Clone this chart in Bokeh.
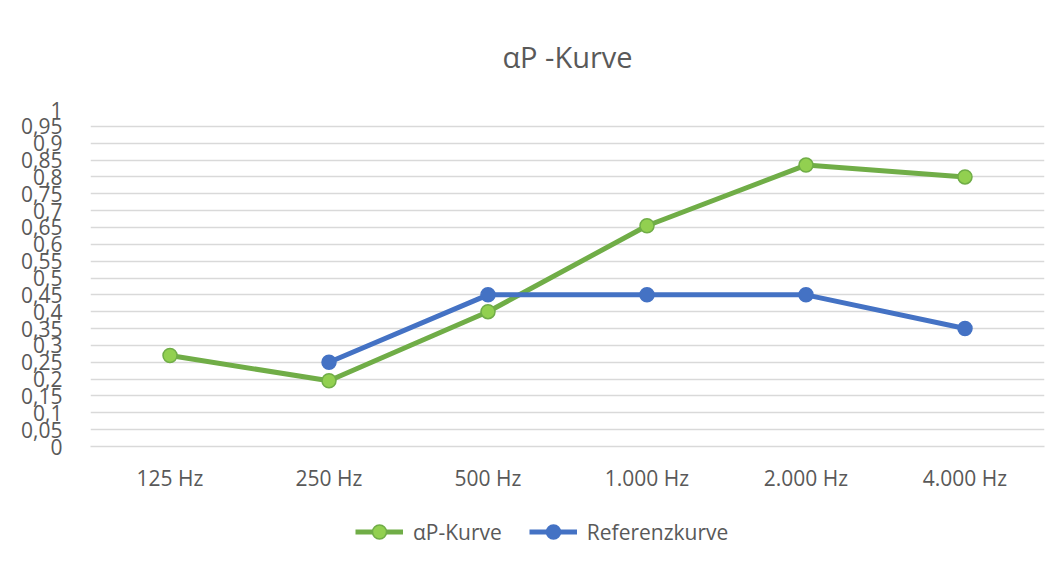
from bokeh.plotting import figure
from bokeh.models import FixedTicker, Legend, LegendItem, ColumnDataSource
from bokeh.layouts import column
from bokeh.embed import file_html
from bokeh.resources import INLINE

categories = ["125 Hz", "250 Hz", "500 Hz", "1.000 Hz", "2.000 Hz", "4.000 Hz"]
ap_kurve = [0.27, 0.195, 0.40, 0.655, 0.835, 0.80]
referenz = [float("nan"), 0.25, 0.45, 0.45, 0.45, 0.35]
y_ticks = [round(i * 0.05, 2) for i in range(21)]
y_tick_labels = ["0", "0,05", "0,1", "0,15", "0,2", "0,25", "0,3", "0,35", "0,4", "0,45",
                 "0,5", "0,55", "0,6", "0,65", "0,7", "0,75", "0,8", "0,85", "0,9", "0,95", "1"]
series_names = ["αP-Kurve", "Referenzkurve"]

FONT = "Open Sans"
TXT = "#595959"
GREEN_LINE, GREEN_FILL = "#70AD47", "#92D050"
BLUE = "#4472C4"

p = figure(x_range=categories, y_range=(0, 1), width=1055, height=501,
           output_backend="svg", toolbar_location=None, title="αP -Kurve",
           min_border_left=90, min_border_right=11, min_border_top=109, min_border_bottom=55)
p.outline_line_color = None
p.background_fill_color = "white"
p.border_fill_color = "white"

p.title.align = "center"
p.title.text_font = FONT
p.title.text_font_size = "29px"
p.title.text_font_style = "normal"
p.title.text_color = TXT
p.title.offset = 0
p.title.standoff = 67

p.yaxis.ticker = FixedTicker(ticks=y_ticks)
p.yaxis.major_label_overrides = {t: l for t, l in zip(y_ticks, y_tick_labels)}
p.yaxis.axis_line_color = None
p.yaxis.major_tick_line_color = None
p.yaxis.minor_tick_line_color = None
p.yaxis.major_label_standoff = 22
p.yaxis.major_label_text_font = FONT
p.yaxis.major_label_text_font_size = "21px"
p.yaxis.major_label_text_color = TXT

p.xaxis.axis_line_color = "#D9D9D9"
p.xaxis.axis_line_width = 1.5
p.xaxis.major_tick_line_color = None
p.xaxis.minor_tick_line_color = None
p.xaxis.major_label_standoff = 11
p.xaxis.major_label_text_font = FONT
p.xaxis.major_label_text_font_size = "21px"
p.xaxis.major_label_text_color = TXT

p.xgrid.grid_line_color = None
p.ygrid.grid_line_color = "#D9D9D9"
p.ygrid.grid_line_width = 1.5

src = ColumnDataSource(dict(x=categories, a=ap_kurve, r=referenz))

p.line("x", "a", source=src, line_color=GREEN_LINE, line_width=5)
p.scatter("x", "a", source=src, size=14, fill_color=GREEN_FILL, line_color=GREEN_LINE, line_width=1.5)
p.line("x", "r", source=src, line_color=BLUE, line_width=5)
p.scatter("x", "r", source=src, size=14, fill_color=BLUE, line_color=BLUE, line_width=1.5)

# legend strip below the chart (its data lie outside its visible y-range)
lg = figure(width=1055, height=54, output_backend="svg", toolbar_location=None,
            min_border=0, x_range=categories, y_range=(5, 6))
lg.axis.visible = False
lg.grid.visible = False
lg.outline_line_color = None
lg.border_fill_color = "white"
lg.background_fill_color = "white"
l1 = lg.line("x", "a", source=src, line_color=GREEN_LINE, line_width=5)
s1 = lg.scatter("x", "a", source=src, size=14, fill_color=GREEN_FILL, line_color=GREEN_LINE, line_width=1.5)
l2 = lg.line("x", "r", source=src, line_color=BLUE, line_width=5)
s2 = lg.scatter("x", "r", source=src, size=14, fill_color=BLUE, line_color=BLUE, line_width=1.5)

legend = Legend(items=[LegendItem(label=series_names[0], renderers=[l1, s1]),
                       LegendItem(label=series_names[1], renderers=[l2, s2])],
                orientation="horizontal", location=(265, 6),
                label_text_font=FONT, label_text_font_size="21px", label_text_color=TXT,
                glyph_width=48, glyph_height=35, spacing=27, label_standoff=10,
                border_line_color=None, background_fill_alpha=0, margin=0, padding=0)
lg.add_layout(legend, "center")

open("out.html", "w").write(file_html(column(p, lg, spacing=0), INLINE))
